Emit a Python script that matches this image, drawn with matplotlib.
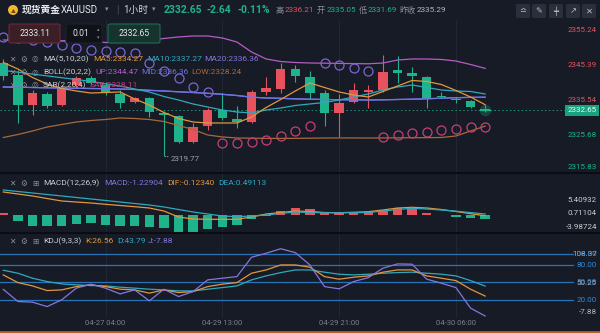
import matplotlib
matplotlib.use('Agg')
import matplotlib.pyplot as plt
import matplotlib.transforms as mtransforms
from matplotlib.patches import FancyBboxPatch, Ellipse
from matplotlib.lines import Line2D
import numpy as np

plt.rcParams['font.family'] = ['Roboto', 'Noto Sans CJK SC', 'DejaVu Sans']

# 现货黄金 XAUUSD 1小时 K 线
opens = [2345.97, 2342.60, 2334.17, 2337.26, 2334.17, 2339.79, 2341.76, 2339.79, 2337.26, 2335.10,
         2336.06, 2332.01, 2331.08, 2323.87, 2328.28, 2332.77, 2330.24, 2329.48, 2337.91, 2338.67,
         2344.20, 2341.95, 2337.46, 2332.01, 2335.10, 2337.91, 2338.39, 2344.00, 2343.08, 2342.12,
         2336.56, 2335.72, 2335.30, 2333.11]
highs = [2347.10, 2344.00, 2338.39, 2337.83, 2339.79, 2342.32, 2342.32, 2340.63, 2338.39, 2336.42,
         2336.42, 2332.49, 2331.36, 2329.12, 2333.33, 2337.63, 2333.89, 2338.39, 2342.12, 2345.97,
         2345.41, 2343.81, 2338.39, 2337.26, 2340.44, 2339.79, 2348.22, 2347.94, 2344.93, 2342.32,
         2337.91, 2336.51, 2335.58, 2334.17]
lows = [2341.20, 2329.12, 2331.36, 2333.33, 2333.89, 2339.23, 2339.79, 2336.98, 2333.33, 2334.73,
        2330.89, 2319.77, 2323.50, 2323.50, 2327.15, 2329.96, 2327.71, 2329.12, 2336.98, 2337.54,
        2340.72, 2335.78, 2328.28, 2325.27, 2334.73, 2333.25, 2337.91, 2340.35, 2337.91, 2333.25,
        2336.06, 2334.65, 2333.25, 2332.29]
closes = [2342.32, 2334.17, 2337.54, 2333.89, 2338.95, 2341.76, 2340.35, 2337.83, 2334.73, 2336.06,
          2332.29, 2331.36, 2323.87, 2328.08, 2332.77, 2330.60, 2329.48, 2337.91, 2338.87, 2344.20,
          2342.32, 2337.63, 2332.01, 2334.65, 2338.39, 2338.39, 2343.53, 2343.25, 2342.32, 2336.06,
          2336.42, 2335.49, 2333.53, 2332.65]

# 均线 MA(5,10,20)
ma5 = [2346.11, 2344.29, 2341.90, 2340.07, 2338.81, 2338.11, 2337.54, 2337.68, 2337.83, 2335.86,
       2334.17, 2332.07, 2330.38, 2329.40, 2329.12, 2329.12, 2329.12, 2330.80, 2333.47, 2335.72,
       2338.11, 2340.35, 2339.09, 2337.83, 2336.98, 2336.42, 2337.97, 2339.51, 2341.06, 2340.78,
       2339.93, 2338.25, 2336.42, 2334.27]
ma10 = [2343.89, 2343.39, 2342.86, 2342.35, 2341.84, 2341.34, 2340.78, 2340.13, 2339.51, 2338.67,
        2337.83, 2336.56, 2335.58, 2334.46, 2333.61, 2332.77, 2332.21, 2331.93, 2332.77, 2333.33,
        2334.04, 2334.46, 2334.88, 2335.58, 2336.42, 2337.26, 2338.39, 2339.23, 2339.79, 2339.09,
        2338.39, 2338.11, 2337.97, 2337.27]
ma20 = [2339.23, 2339.15, 2339.09, 2339.01, 2338.95, 2338.87, 2338.81, 2338.75, 2338.67, 2338.53,
        2338.30, 2338.11, 2337.88, 2337.68, 2337.46, 2337.18, 2336.84, 2336.37, 2336.14, 2336.06,
        2335.89, 2335.80, 2335.72, 2335.66, 2335.61, 2335.58, 2335.63, 2335.72, 2335.80, 2335.92,
        2336.09, 2336.22, 2336.32, 2336.36]

# BOLL(20,2,2)，中轨即 MA20
boll_up = [2352.43, 2352.37, 2352.35, 2352.29, 2352.26, 2352.21, 2352.15, 2351.73, 2351.73, 2352.01,
           2352.43, 2352.86, 2353.28, 2353.56, 2353.56, 2353.00, 2351.87, 2349.06, 2347.10, 2346.39,
           2346.11, 2345.97, 2345.92, 2345.86, 2345.80, 2345.75, 2345.97, 2346.81, 2347.10, 2347.10,
           2346.96, 2346.53, 2345.55, 2344.47]
boll_mid = ma20
boll_low = [2325.04, 2325.89, 2326.87, 2327.99, 2328.70, 2329.40, 2329.82, 2330.10, 2330.52, 2330.38,
            2330.10, 2329.54, 2328.41, 2327.29, 2325.75, 2325.19, 2324.91, 2324.85, 2324.80, 2324.78,
            2324.80, 2324.85, 2324.90, 2324.92, 2324.92, 2324.90, 2324.92, 2324.95, 2324.98, 2325.00,
            2325.04, 2325.47, 2326.87, 2328.24]

# SAR(2,20,4)
sar = [2353.28, 2353.00, 2352.43, 2351.87, 2351.03, 2350.18, 2349.62, 2349.34, 2349.06, 2348.78,
       2345.97, 2343.72, 2341.76, 2339.23, 2337.83, 2323.50, 2323.50, 2323.78, 2324.34, 2325.47,
       2326.87, 2328.41, 2345.97, 2345.41, 2344.57, 2343.72, 2325.19, 2325.75, 2326.31, 2326.59,
       2327.15, 2327.43, 2327.99, 2328.11]

# MACD(12,26,9)
macd_hist = [0.8, -1.87, -3.75, -3.75, -3.75, -3.04, -2.79, -3.39, -3.75, -3.75,
             -3.99, -4.56, -5.76, -5.76, -4.91, -3.99, -3.39, -1.38, -0.3, 1.66,
             2.51, 2.16, 0.95, 0.74, 0.95, 1.31, 1.91, 2.51, 2.16, 0.95,
             0.25, -0.45, -0.8, -1.22904]
macd_dif = [8.27, 7.56, 6.86, 5.97, 5.09, 4.73, 4.38, 3.92, 3.50, 3.07,
            2.61, 1.55, -0.57, -1.27, -1.38, -1.38, -1.38, -0.57, 0.49, 1.02,
            1.55, 1.38, 1.02, 0.95, 1.10, 1.31, 1.91, 2.61, 2.86, 2.61,
            2.08, 1.38, 0.6, -0.12340]
macd_dea = [8.98, 8.45, 7.92, 7.39, 6.86, 6.33, 5.80, 5.27, 4.73, 4.20,
            3.67, 2.97, 2.08, 1.20, 0.49, -0.21, -0.46, -0.21, 0.14, 0.67,
            1.20, 1.02, 0.95, 0.95, 0.95, 1.02, 1.55, 2.08, 2.51, 2.26,
            1.9, 1.5, 1.0, 0.49113]

# KDJ(9,3,3)
kdj_k = [63.1, 49.8, 44.1, 36.0, 37.2, 42.9, 45.9, 42.9, 38.4, 37.2,
         31.6, 37.2, 32.6, 34.3, 42.9, 47.1, 49.8, 66.0, 71.7, 80.3,
         80.3, 76.4, 60.2, 55.7, 59.1, 61.4, 67.8, 71.7, 71.7, 61.4,
         57.4, 53.3, 38.4, 26.56]
kdj_d = [71.2, 66.0, 57.4, 51.6, 47.6, 45.9, 44.7, 44.1, 41.9, 40.2,
         38.4, 37.2, 35.5, 35.5, 38.4, 41.2, 44.1, 54.5, 61.4, 67.1,
         71.7, 71.7, 67.8, 64.3, 63.1, 64.3, 66.0, 67.1, 67.8, 66.0,
         64.3, 61.4, 53.3, 43.79]
kdj_j = [38.1, 17.1, 16.0, 8.4, 20.0, 40.2, 47.1, 40.2, 30.3, 37.2,
         18.3, 38.4, 25.7, 34.3, 54.5, 57.4, 60.2, 93.6, 100.5, 108.37,
         101.6, 80.3, 42.9, 39.0, 51.6, 58.4, 74.7, 82.1, 81.6, 55.7,
         48.8, 41.2, 5.7, -7.88]

time_ticks = [7, 15, 23, 31]
time_labels = ['04-27 04:00', '04-29 13:00', '04-29 21:00', '04-30 06:00']
price_ticks = [2355.24, 2345.39, 2335.54, 2325.68, 2315.83]
macd_ticks = [5.40932, 0.71104, -3.98724]
kdj_levels = [100, 80, 50, 20]

# 配色
BG = '#171b26'
GRID = '#222735'
RED = '#e8525d'
GREEN = '#1fb38c'
TXT = '#c9ccd3'
DIM = '#8a8f9a'
C_MA5 = '#e2963c'
C_MA10 = '#2ea9be'
C_MA20 = '#8576e0'
C_UP = '#b65cc6'
C_MID = '#6a74e6'
C_LOW = '#a8693a'
C_SAR_HI = '#7d65cf'
C_SAR_LO = '#c63f78'
C_LEVEL = '#2874b8'

W, H = 600, 333
fig = plt.figure(figsize=(6, 3.33), dpi=100, facecolor=BG)


def fx(px):
    return px / W


def fy(py):
    return 1 - py / H


def put(px, py, s, color, size=6.3, **kw):
    fig.text(fx(px), fy(py), s, color=color, fontsize=size, va='center', **kw)


x = np.arange(len(closes))
xlim = (-0.226, 38.47)

ax1 = fig.add_axes([0, fy(173), fx(565), (173 - 20) / H])
ax2 = fig.add_axes([0, fy(232), fx(565), (232 - 174) / H])
ax3 = fig.add_axes([0, fy(318), fx(565), (318 - 234) / H])
for ax in (ax1, ax2, ax3):
    ax.set_facecolor(BG)
    ax.set_xlim(*xlim)
    for s in ax.spines.values():
        s.set_visible(False)
    ax.set_xticks([])
    ax.set_yticks([])
    for t in time_ticks:
        ax.axvline(t, color=GRID, lw=0.7, zorder=0)

ax1.set_ylim(2315.07, 2358.05)
ax2.set_ylim(-5.87, 14.63)
ax3.set_ylim(-11.38, 133.8)

# ---- 主图：K 线 ----
o = np.array(opens)
c = np.array(closes)
up = c >= o
cols = np.where(up, RED, GREEN)
ax1.vlines(x, lows, highs, colors=cols, lw=0.8, zorder=2)
ax1.bar(x, np.maximum(np.abs(c - o), 0.25), bottom=np.minimum(o, c), width=0.64,
        color=cols, lw=0, zorder=2)

# 最新价虚线与光点
ax1.axhline(closes[-1], color=GREEN, lw=0.7, ls=(0, (1.5, 2.5)), alpha=0.8, zorder=1)
ax1.scatter([x[-1]], [closes[-1]], s=70, color=GREEN, alpha=0.25, lw=0, zorder=4)
ax1.plot([x[-1] - 0.35, x[-1] + 0.35], [closes[-1]] * 2, color=GREEN, lw=0.9, zorder=4)

# 均线和布林带
ax1.plot(x, boll_up, color=C_UP, lw=0.9, zorder=3)
ax1.plot(x, boll_low, color=C_LOW, lw=0.9, zorder=3)
ax1.plot(x, ma20, color=C_MA20, lw=0.9, zorder=3)
ax1.plot(x, boll_mid, color=C_MID, lw=0.9, zorder=3)
ax1.plot(x, ma10, color=C_MA10, lw=0.9, zorder=3)
ax1.plot(x, ma5, color=C_MA5, lw=0.9, zorder=3)

# SAR 圆点
sar_a = np.array(sar)
above = sar_a > c
ax1.plot(x[above], sar_a[above], 'o', mfc='none', mec=C_SAR_HI, ms=6.5, mew=0.9, zorder=4)
ax1.plot(x[~above], sar_a[~above], 'o', mfc='none', mec=C_SAR_LO, ms=6.5, mew=0.9, zorder=4)

# 最低点标注
i_min = int(np.argmin(lows))
ax1.annotate(f'{lows[i_min]:.2f}', xy=(i_min, lows[i_min]), xytext=(5, -2),
             textcoords='offset points', color='#9da2ac', fontsize=5.8, va='center',
             arrowprops=dict(arrowstyle='-', color='#9da2ac', lw=0.6, ls=':',
                             shrinkA=0, shrinkB=0))

# 右侧价格轴
tr1 = mtransforms.blended_transform_factory(fig.transFigure, ax1.transData)
for v in price_ticks:
    col = RED if v > closes[-1] else GREEN
    va = 'bottom' if v < 2316.5 else 'center'
    ax1.text(0.995, v, f'{v:.2f}', transform=tr1, ha='right', va=va, color=col,
             fontsize=5.8, zorder=5)
ax1.text(0.995, closes[-1], f'{closes[-1]:.2f}', transform=tr1, ha='right', va='center',
         color='#eafff7', fontsize=5.8, zorder=6,
         bbox=dict(boxstyle='square,pad=0.3', fc='#18a37e', ec='none'))

# ---- MACD ----
hist = np.array(macd_hist)
ax2.bar(x, hist, width=0.64, color=np.where(hist >= 0, RED, GREEN), lw=0, zorder=2)
ax2.plot(x, macd_dif, color=C_MA5, lw=0.9, zorder=3)
ax2.plot(x, macd_dea, color=C_MA10, lw=0.9, zorder=3)
tr2 = mtransforms.blended_transform_factory(fig.transFigure, ax2.transData)
for v in macd_ticks:
    ax2.text(0.995, v, f'{v:.5f}', transform=tr2, ha='right', va='center', color=TXT,
             fontsize=5.8)

# ---- KDJ ----
for lv in kdj_levels:
    ax3.axhline(lv, xmin=0, xmax=573 / 565, color=C_LEVEL, lw=0.9, clip_on=False, zorder=1)
ax3.plot(x, kdj_d, color=C_MA10, lw=0.9, zorder=3)
ax3.plot(x, kdj_k, color=C_MA5, lw=0.9, zorder=3)
ax3.plot(x, kdj_j, color=C_MA20, lw=0.9, zorder=3)
tr3 = mtransforms.blended_transform_factory(fig.transFigure, ax3.transData)
for lv in kdj_levels:
    ax3.text(0.995, lv, f'{lv:.2f}', transform=tr3, ha='right', va='center', color='#2f8ad8',
             fontsize=5.8, zorder=5)
kdj_max = max(kdj_j)
kdj_min = min(kdj_j)
tr3b = mtransforms.blended_transform_factory(fig.transFigure, ax3.transAxes)
for v, fy3 in [(kdj_max, 0.762), ((kdj_max + kdj_min) / 2, 0.42), (kdj_min, 0.075)]:
    ax3.text(0.995, fy3, f'{v:.2f}', transform=tr3b, ha='right', va='center', color='#b4b8c0',
             fontsize=5.8, zorder=4)

# 时间轴
trx = mtransforms.blended_transform_factory(ax3.transData, ax3.transAxes)
for t, lab in zip(time_ticks, time_labels):
    ax3.text(t, -0.06, lab, transform=trx, ha='center', va='center', color='#7b808b',
             fontsize=5.5)

# 面板分隔线与底部色条
for py in (173.3, 232.8):
    fig.add_artist(Line2D([0, 1], [fy(py), fy(py)], color='#0b0d13', lw=1.5))
fig.add_artist(Line2D([0, 1], [fy(332), fy(332)], color='#b85c2c', lw=2))

# ---- 顶部行情栏 ----
fig.add_artist(Ellipse((fx(13), fy(10)), 10 / W, 10 / H, transform=fig.transFigure,
                       fc='#f2b632', ec='none'))
put(13, 10.3, '▲', '#6b4a00', size=3.5, ha='center')
put(22, 10, '现货黄金', '#e6e8ec', size=7, weight='bold')
put(61, 10, 'XAUUSD', '#e6e8ec', size=7)
put(105, 10, '▾', DIM, size=5)
put(116, 10, '|', '#4a4f5a', size=7)
put(123, 10, '1小时', '#d0d3d9', size=7)
put(152, 10, '▾', DIM, size=5)
put(164, 10, '2332.65', GREEN, size=7.4, weight='bold')
put(207, 10, '-2.64', GREEN, size=7.4, weight='bold')
put(238, 10, '-0.11%', GREEN, size=7.4, weight='bold')
quote_items = [(276, '高', DIM), (285, '2336.21', RED), (317, '开', DIM), (327, '2335.05', GREEN),
               (359, '低', DIM), (368, '2331.69', GREEN), (399, '昨收', DIM),
               (417, '2335.29', '#b4b8c0')]
for px, s, col in quote_items:
    put(px, 10, s, col, size=5.9)

# 右上角工具按钮
for px, glyph in zip([523, 539, 556, 573, 589], ['≏', '✎', '┿', '↗', '✕']):
    fig.add_artist(FancyBboxPatch((fx(px - 7), fy(18)), 14 / W, 14 / H,
                                  boxstyle='round,pad=0,rounding_size=0.004',
                                  transform=fig.transFigure, fc='#2a2f3b', ec='none'))
    put(px, 11, glyph, '#b8bcc4', size=6, ha='center', family=['DejaVu Sans'])

# 下单框
boxes = [(9, 60, '#3a1f27', '#6b2834', '2333.11'),
         (66, 102, '#0f1218', '#1e222b', '0.01'),
         (108, 160, '#17332d', '#1f6b58', '2332.65')]
for x0, x1, fc, ec, s in boxes:
    fig.add_artist(FancyBboxPatch((fx(x0), fy(43)), (x1 - x0) / W, 19 / H,
                                  boxstyle='round,pad=0,rounding_size=0.004',
                                  transform=fig.transFigure, fc=fc, ec=ec, lw=0.8, zorder=5))
    put((x0 + x1) / 2 - (3 if s == '0.01' else 0), 34, s, '#e4e6ea', size=6.2, ha='center',
        zorder=6)
put(98, 30, '▴', DIM, size=3.5, ha='center', zorder=6)
put(98, 38, '▾', DIM, size=3.5, ha='center', zorder=6)

# 指标图例
icon_kw = dict(family=['DejaVu Sans'], zorder=6)
for py, third in [(59, '◎'), (72, '◎'), (85, '◎'), (183, '⊞'), (241, '⊞')]:
    put(9, py, '✕', DIM, size=5.5, **icon_kw)
    put(20, py, '⚙', DIM, size=5.5, **icon_kw)
    put(32, py, third, DIM, size=5.5, **icon_kw)

legend_rows = [
    (59, [(43, 'MA(5,10,20)', TXT), (93, 'MA5:2334.27', C_MA5),
          (147, 'MA10:2337.27', C_MA10), (204, 'MA20:2336.36', C_MA20)]),
    (72, [(43, 'BOLL(20,2,2)', TXT), (95, 'UP:2344.47', C_UP),
          (141, 'MID:2336.36', C_MID), (191, 'LOW:2328.24', C_LOW)]),
    (85, [(43, 'SAR(2,20,4)', TXT), (90, 'SAR:2328.11', C_SAR_LO)]),
    (183, [(43, 'MACD(12,26,9)', TXT), (104, 'MACD:-1.22904', C_MA20),
           (167, 'DIF:-0.12340', C_MA5), (218, 'DEA:0.49113', C_MA10)]),
    (241, [(43, 'KDJ(9,3,3)', TXT), (85, 'K:26.56', C_MA5),
           (117, 'D:43.79', C_MA10), (148, 'J:-7.88', C_MA20)]),
]
for py, items in legend_rows:
    for px, s, col in items:
        put(px, py, s, col, size=6.0, zorder=6)

fig.savefig('out.png', dpi=100, facecolor=BG)
